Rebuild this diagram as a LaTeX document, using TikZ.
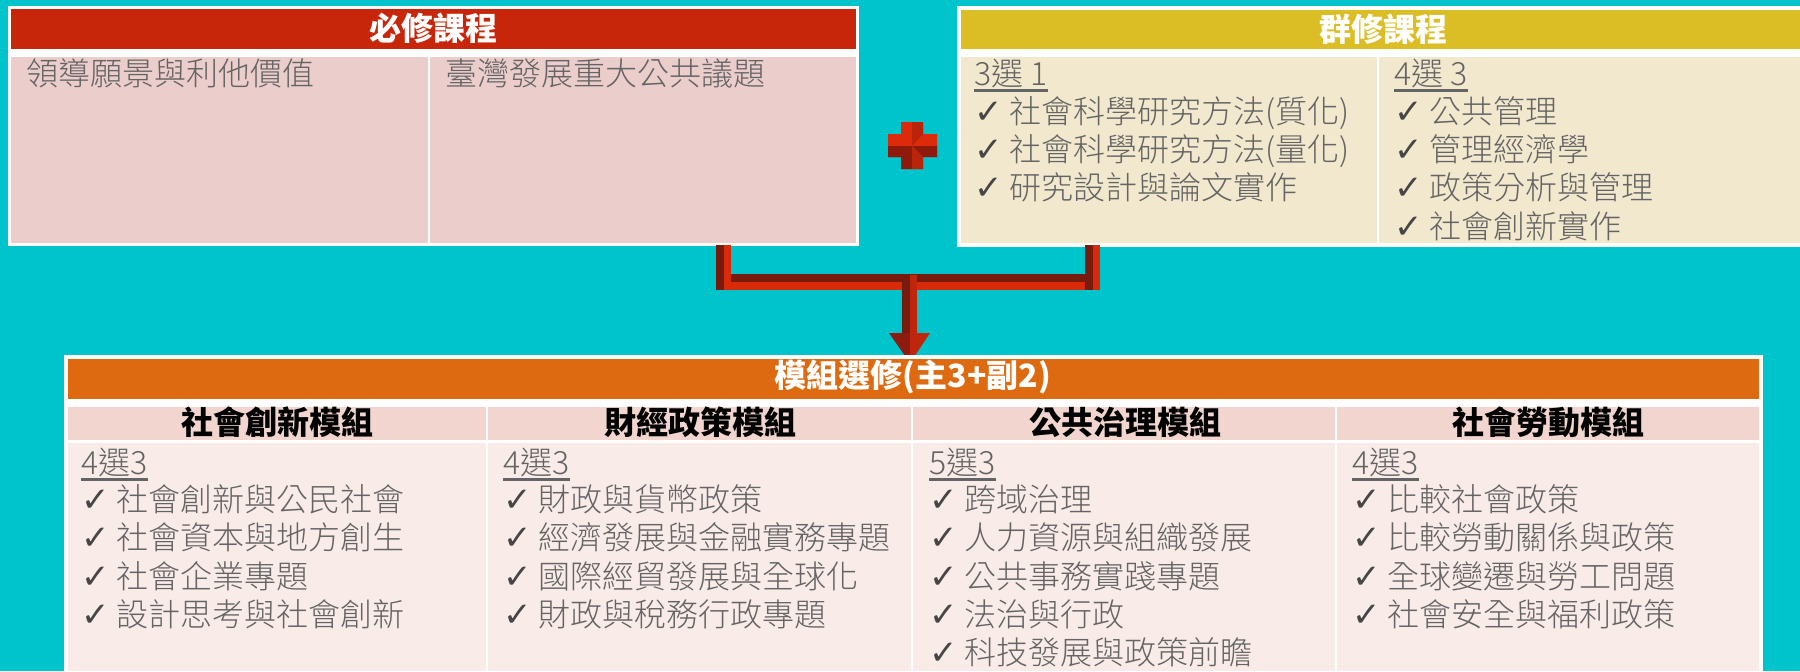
\documentclass[tikz,border=0pt]{standalone}
\usepackage{fontspec}
\setmainfont{Noto Sans CJK TC}
\newfontfamily\thincjk{Noto Sans CJK TC Light}
\newfontfamily\symb{DejaVu Sans}
\definecolor{bgteal}{RGB}{0,196,204}
\definecolor{reqred}{RGB}{200,38,10}
\definecolor{reqpink}{RGB}{235,205,203}
\definecolor{grpyellow}{RGB}{219,190,38}
\definecolor{grpcream}{RGB}{242,232,206}
\definecolor{modorange}{RGB}{221,106,16}
\definecolor{modhead}{RGB}{242,213,206}
\definecolor{modbody}{RGB}{249,235,232}
\definecolor{itemgray}{RGB}{100,100,100}
\definecolor{tickgray}{RGB}{70,70,70}
\definecolor{arrowdark}{RGB}{118,27,14}
\definecolor{arrowred}{RGB}{217,43,10}
\definecolor{stemred}{RGB}{192,38,12}
\definecolor{headdark}{RGB}{142,28,14}
\definecolor{plusred}{RGB}{220,42,10}
\definecolor{plusmid}{RGB}{184,36,12}
\definecolor{plusdark}{RGB}{142,26,12}
\newcommand\chk{\makebox[17.5pt][l]{\color{tickgray}\symb\fontsize{17}{17}\selectfont ✓}}
\newcommand\ulnum[1]{\setbox0\hbox{#1}\rlap{\rule[-3.4pt]{\wd0}{1.2pt}}\box0}
\begin{document}
\begin{tikzpicture}[x=0.5pt,y=-0.5pt,
	hdr/.style={font=\bfseries\fontsize{16}{19}\selectfont,text=white,inner sep=0},
	sub/.style={font=\bfseries\fontsize{16}{19}\selectfont,text=black,inner sep=0},
	item/.style={anchor=base west,font=\thincjk\fontsize{16}{19}\selectfont,text=itemgray,inner sep=0},
	dark/.style={fill=arrowdark},
	lite/.style={fill=arrowred}
]
\fill[bgteal] (0,0) rectangle (1800,671);
\useasboundingbox (0,0) rectangle (1800,671);

% required courses
	\fill[white] (8,6) rectangle (859,246);
	\fill[reqred] (11,9) rectangle (856,49);
	\fill[reqpink] (11,57) rectangle (428,243);
	\fill[reqpink] (430,57) rectangle (856,243);
	\node[hdr] (reqtitle) at (433,28) {必修課程};
	\node[item] (reqa) at (26,85) {領導願景與利他價值};
	\node[item] (reqb) at (445,85) {臺灣發展重大公共議題};

% plus sign
	\fill[plusred] (901,122) -- (923,122) -- (923,134) -- (937,134) -- (937,157) -- (923,157) -- (923,169) -- (901,169) -- (901,157) -- (888,157) -- (888,134) -- (901,134) -- cycle;
	\fill[plusdark] (888,157) -- (888,146) -- (912,146) -- (901,157) -- cycle;
	\fill[plusdark] (937,157) -- (937,146) -- (912,146) -- (923,157) -- cycle;
	\fill[plusdark] (901,169) -- (901,157) -- (912,146) -- (912,169) -- cycle;
	\fill[plusmid] (923,169) -- (923,157) -- (912,146) -- (912,169) -- cycle;
	\fill[plusmid] (923,122) -- (923,134) -- (912,146) -- (912,122) -- cycle;

% group courses
	\fill[white] (957,6) rectangle (1800,247);
	\fill[grpyellow] (961,10) rectangle (1800,49);
	\fill[grpcream] (961,57) rectangle (1377,243);
	\fill[grpcream] (1379,57) rectangle (1800,243);
	\node[hdr] (grptitle) at (1383,29) {群修課程};
	\node[item] (grpa) at (974,85) {\ulnum{3選 1}};
	\node[item] (grpa1) at (974,123) {\chk 社會科學研究方法(質化)};
	\node[item] (grpa2) at (974,161) {\chk 社會科學研究方法(量化)};
	\node[item] (grpa3) at (974,199.5) {\chk 研究設計與論文實作};
	\node[item] (grpb) at (1394,85) {\ulnum{4選 3}};
	\node[item] (grpb1) at (1394,123) {\chk 公共管理};
	\node[item] (grpb2) at (1394,161) {\chk 管理經濟學};
	\node[item] (grpb3) at (1394,199.5) {\chk 政策分析與管理};
	\node[item] (grpb4) at (1394,238) {\chk 社會創新實作};

% connector
	\coordinate (lstub) at (716,245);
	\coordinate (rstub) at (1085,245);
	\coordinate (stem) at (902,275);
	\coordinate (tip) at (910,363);
	\fill[dark] ([shift={(0,29)}]lstub) rectangle ++(384,8);
	\fill[lite] ([shift={(0,37)}]lstub) rectangle ++(384,8);
	\fill[dark] (lstub) rectangle ++(8,45);
	\fill[lite] ([shift={(8,0)}]lstub) rectangle ++(7,45);
	\fill[dark] (rstub) rectangle ++(8,45);
	\fill[lite] ([shift={(8,0)}]rstub) rectangle ++(7,45);
	\fill[dark] (stem) rectangle ++(8,59);
	\fill[stemred] ([shift={(8,0)}]stem) rectangle ++(7,59);
	\fill[headdark] ([shift={(-13,58)}]stem) -- ([shift={(8,58)}]stem) -- (tip) -- cycle;
	\fill[stemred] ([shift={(8,58)}]stem) -- ([shift={(28,58)}]stem) -- (tip) -- cycle;

% module electives
	\fill[white] (64,355) rectangle (1763,671);
	\fill[modorange] (68,359) rectangle (1759,399);
	\fill[modhead] (68,407) rectangle (486,440);
	\fill[modhead] (488,407) rectangle (911,440);
	\fill[modhead] (913,407) rectangle (1335,440);
	\fill[modhead] (1337,407) rectangle (1759,440);
	\fill[modbody] (68,443) rectangle (486,671);
	\fill[modbody] (488,443) rectangle (911,671);
	\fill[modbody] (913,443) rectangle (1335,671);
	\fill[modbody] (1337,443) rectangle (1759,671);
	\node[hdr] (modtitle) at (913,377) {模組選修(主3+副2)};
	\node[sub] (soc) at (277,422.5) {社會創新模組};
	\node[sub] (fin) at (700,422.5) {財經政策模組};
	\node[sub] (gov) at (1125,422.5) {公共治理模組};
	\node[sub] (lab) at (1548,422.5) {社會勞動模組};

	\node[item] (soc0) at (81,474) {\ulnum{4選3}};
	\node[item] (soc1) at (81,511) {\chk 社會創新與公民社會};
	\node[item] (soc2) at (81,549.5) {\chk 社會資本與地方創生};
	\node[item] (soc3) at (81,588) {\chk 社會企業專題};
	\node[item] (soc4) at (81,626) {\chk 設計思考與社會創新};

	\node[item] (fin0) at (503,474) {\ulnum{4選3}};
	\node[item] (fin1) at (503,511) {\chk 財政與貨幣政策};
	\node[item] (fin2) at (503,549.5) {\chk 經濟發展與金融實務專題};
	\node[item] (fin3) at (503,588) {\chk 國際經貿發展與全球化};
	\node[item] (fin4) at (503,626) {\chk 財政與稅務行政專題};

	\node[item] (gov0) at (929,474) {\ulnum{5選3}};
	\node[item] (gov1) at (929,511) {\chk 跨域治理};
	\node[item] (gov2) at (929,549.5) {\chk 人力資源與組織發展};
	\node[item] (gov3) at (929,588) {\chk 公共事務實踐專題};
	\node[item] (gov4) at (929,626) {\chk 法治與行政};
	\node[item] (gov5) at (929,664.5) {\chk 科技發展與政策前瞻};

	\node[item] (lab0) at (1352,474) {\ulnum{4選3}};
	\node[item] (lab1) at (1352,511) {\chk 比較社會政策};
	\node[item] (lab2) at (1352,549.5) {\chk 比較勞動關係與政策};
	\node[item] (lab3) at (1352,588) {\chk 全球變遷與勞工問題};
	\node[item] (lab4) at (1352,626) {\chk 社會安全與福利政策};
\end{tikzpicture}
\end{document}
